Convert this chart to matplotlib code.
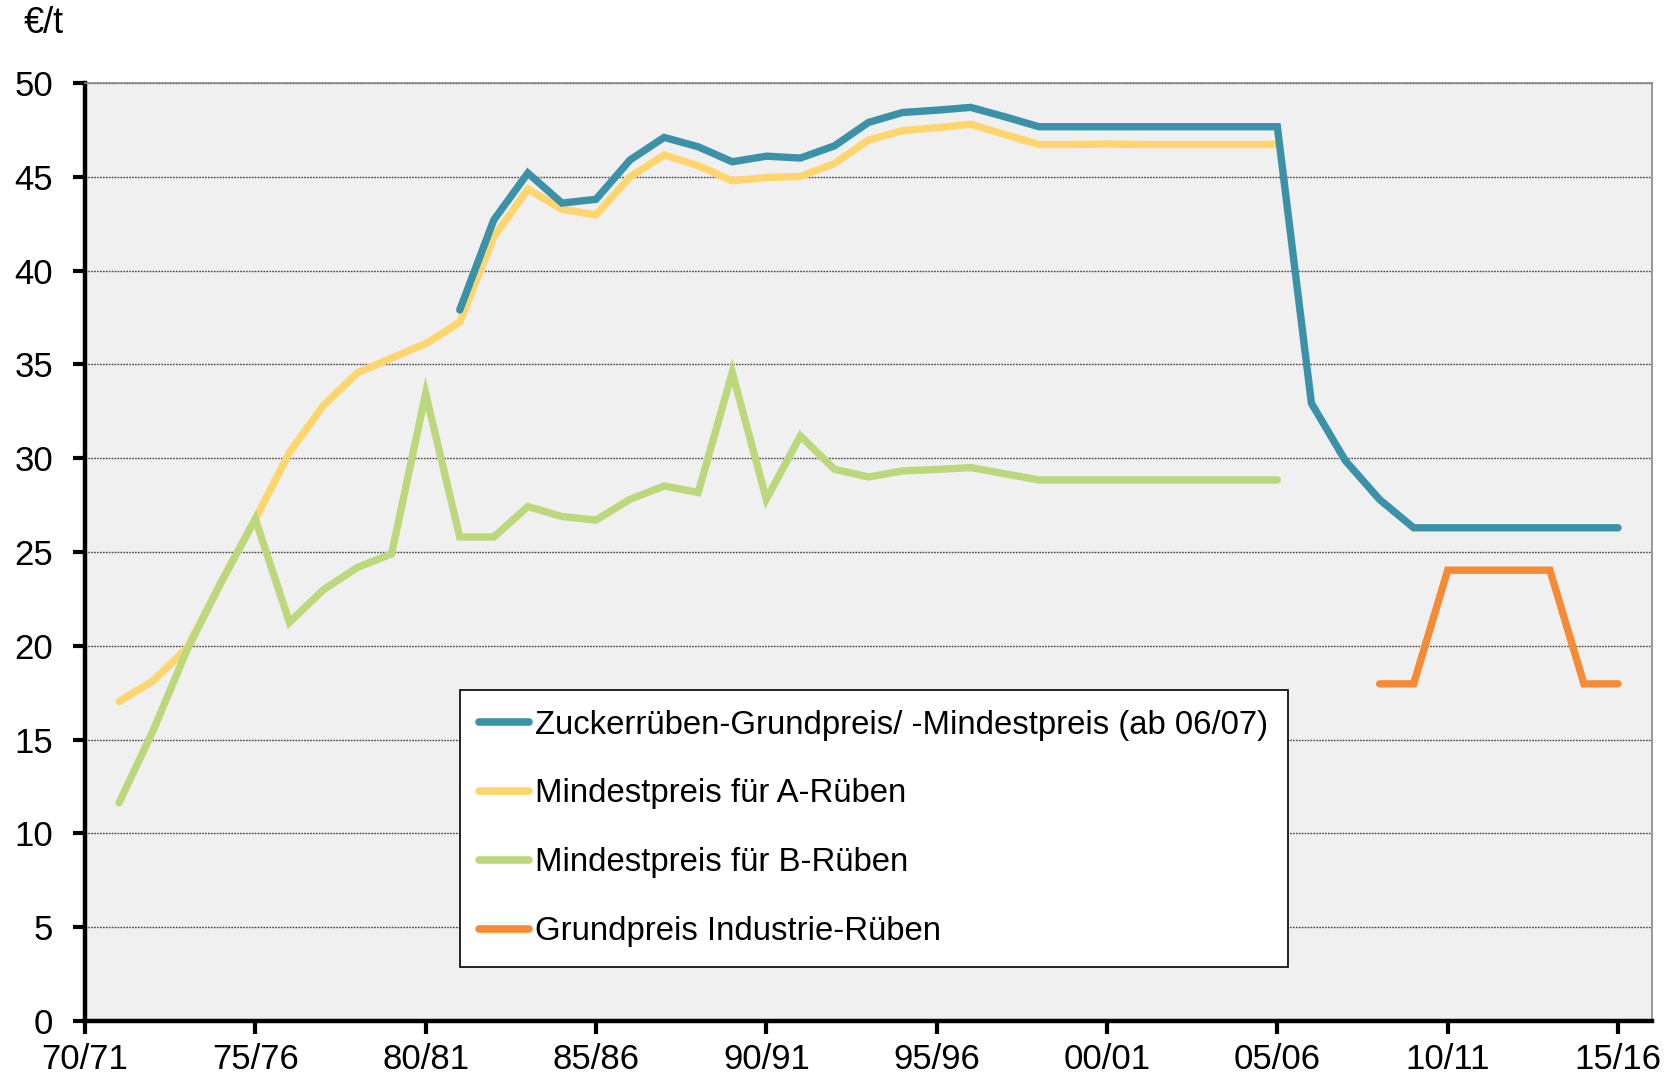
import numpy as np
import matplotlib.pyplot as plt

plt.rcParams['font.family'] = ['Liberation Sans', 'DejaVu Sans']

# seasons 70/71 .. 15/16 (index 0 .. 45)
seasons = [f"{(70 + i) % 100:02d}/{(71 + i) % 100:02d}" for i in range(46)]
nan = np.nan

# Zuckerrüben-Grundpreis / -Mindestpreis (ab 06/07), from 81/82
grundpreis = [nan] * 11 + [
    37.9, 42.7, 45.2, 43.6, 43.8, 45.9, 47.1, 46.6, 45.8, 46.1,
    46.0, 46.65, 47.9, 48.43, 48.55, 48.7, 48.2, 47.67, 47.67, 47.67,
    47.67, 47.67, 47.67, 47.67, 47.67, 32.93, 29.86, 27.8, 26.29, 26.29,
    26.29, 26.29, 26.29, 26.29, 26.29,
]

# Mindestpreis für A-Rüben, 71/72 .. 05/06
a_rueben = [nan] + [
    17.03, 18.13, 19.9, 23.4, 26.76, 30.3, 32.82, 34.55, 35.34, 36.1,
    37.25, 41.8, 44.34, 43.27, 42.97, 45.0, 46.16, 45.59, 44.79, 44.96,
    45.02, 45.71, 46.96, 47.46, 47.62, 47.8, 47.25, 46.72, 46.72, 46.75,
    46.72, 46.72, 46.72, 46.72, 46.72,
] + [nan] * 10

# Mindestpreis für B-Rüben, 71/72 .. 05/06
b_rueben = [nan] + [
    11.63, 15.48, 19.8, 23.4, 26.76, 21.25, 22.99, 24.18, 24.9, 33.45,
    25.8, 25.8, 27.42, 26.89, 26.7, 27.81, 28.52, 28.17, 34.57, 27.81,
    31.19, 29.41, 29.0, 29.32, 29.4, 29.5, 29.17, 28.84, 28.84, 28.84,
    28.84, 28.84, 28.84, 28.84, 28.84,
] + [nan] * 10

# Grundpreis Industrie-Rüben, 08/09 .. 15/16
industrie = [nan] * 38 + [17.97, 17.97, 24.03, 24.03, 24.03, 24.03, 17.97, 17.97]

labels = [
    "Zuckerrüben-Grundpreis/ -Mindestpreis (ab 06/07)",
    "Mindestpreis für A-Rüben",
    "Mindestpreis für B-Rüben",
    "Grundpreis Industrie-Rüben",
]
colors = ["#3B92A8", "#FFD56E", "#BCD87C", "#F78A34"]

x = np.arange(len(seasons))

fig = plt.figure(figsize=(16.73, 10.78), dpi=100)
ax = fig.add_axes([0.0508, 0.0529, 0.9367, 0.8701])
ax.set_facecolor("#F0F0F0")

series = [grundpreis, a_rueben, b_rueben, industrie]
order = [1, 2, 0, 3]  # green drawn over yellow
handles = [None] * 4
for k in order:
    h, = ax.plot(x, series[k], color=colors[k], lw=5.3,
                 solid_capstyle="round", solid_joinstyle="miter", label=labels[k])
    handles[k] = h

ax.set_xlim(0, 46)
ax.set_ylim(0, 50)
ax.set_yticks(np.arange(0, 51, 5))
ax.set_xticks(x[::5])
ax.set_xticklabels(seasons[::5])
ax.tick_params(axis="both", labelsize=25, width=3, length=9, color="black")
ax.tick_params(axis="y", pad=14)
ax.tick_params(axis="x", pad=7)

for yv in range(5, 51, 5):
    ax.axhline(yv, color="#444444", lw=1.0, ls=(0, (1.2, 0.9)), zorder=0.5)

for s in ["left", "bottom"]:
    ax.spines[s].set_linewidth(3.2)
    ax.spines[s].set_color("black")
for s in ["top", "right"]:
    ax.spines[s].set_linewidth(1.2)
    ax.spines[s].set_color("#888888")

fig.text(0.026, 0.978, "€/t", fontsize=26, ha="center", va="center")

leg = ax.legend(handles=handles, labels=labels, loc="lower left",
                bbox_to_anchor=(0.239, 0.0576), fontsize=23.7,
                frameon=True, fancybox=False, framealpha=1,
                handlelength=1.5, handletextpad=0.2, labelspacing=1.15,
                borderpad=0.6, borderaxespad=0)
leg.get_frame().set_edgecolor("black")
leg.get_frame().set_linewidth(1.2)
for line in leg.get_lines():
    line.set_linewidth(5.5)

fig.savefig("out.png", dpi=100)
